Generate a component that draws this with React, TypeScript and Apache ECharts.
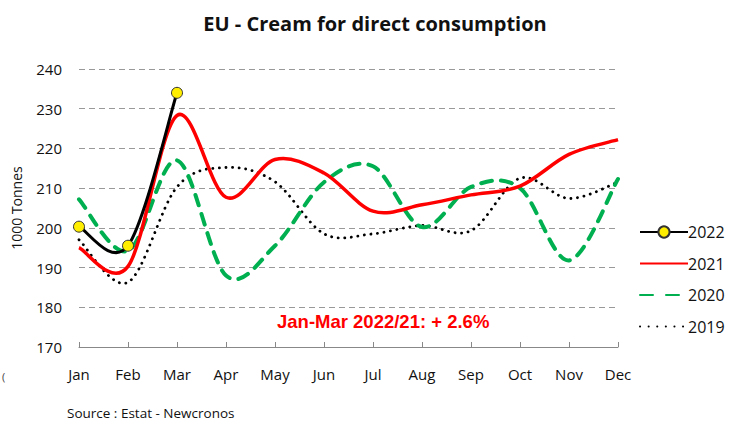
import React, { useEffect, useRef } from "react";
import * as echarts from "echarts";

const months = ["Jan", "Feb", "Mar", "Apr", "May", "Jun", "Jul", "Aug", "Sep", "Oct", "Nov", "Dec"];
const yTicks = [170, 180, 190, 200, 210, 220, 230, 240];
const s2022 = [200.3, 195.5, 234];
const s2021 = [195, 190.3, 228.3, 207.7, 217.2, 213.8, 204.2, 205.8, 208.3, 210.5, 218.5, 222.2];
const s2020 = [207.2, 194.2, 217, 188, 195.5, 211.5, 215.5, 200.2, 210.3, 210, 191.8, 212.3];
const s2019 = [197, 186.3, 210.3, 215.2, 211.6, 198.5, 198.5, 200.6, 199.3, 212.5, 207.4, 211.5];

type Style = { stroke: string; lineWidth: number; lineDash?: number[]; lineCap?: string };

function makeRenderer(vals: number[], style: Style, markers: boolean) {
  return (params: any, api: any) => {
    if (params.dataIndex !== 0) return null;
    const pts = vals.map((v, i) => api.coord([i, v]) as number[]);
    const n = pts.length;
    let d = `M${pts[0][0]},${pts[0][1]}`;
    for (let i = 0; i < n - 1; i++) {
      const p0 = pts[Math.max(i - 1, 0)];
      const p1 = pts[i];
      const p2 = pts[i + 1];
      const p3 = pts[Math.min(i + 2, n - 1)];
      const c1x = p1[0] + (p2[0] - p0[0]) / 6;
      const c1y = p1[1] + (p2[1] - p0[1]) / 6;
      const c2x = p2[0] - (p3[0] - p1[0]) / 6;
      const c2y = p2[1] - (p3[1] - p1[1]) / 6;
      d += ` C${c1x},${c1y} ${c2x},${c2y} ${p2[0]},${p2[1]}`;
    }
    const children: any[] = [
      {
        type: "path",
        shape: { pathData: d },
        style: { fill: "none", ...style },
      },
    ];
    if (markers) {
      pts.forEach((p) =>
        children.push({
          type: "circle",
          shape: { cx: p[0], cy: p[1], r: 5.5 },
          style: { fill: "#ffee00", stroke: "#333", lineWidth: 1 },
        })
      );
    }
    return { type: "group", children };
  };
}

export default function App() {
  const ref = useRef<HTMLDivElement>(null);
  useEffect(() => {
    const chart = echarts.init(ref.current!, undefined, { renderer: "svg" });
    const font = "'Open Sans', 'Liberation Sans', sans-serif";
    const curve = (name: string, vals: number[], style: Style, markers: boolean, z: number) => ({
      name,
      type: "custom",
      z,
      data: vals.map((v, i) => [i, v]),
      encode: { x: 0, y: 1 },
      renderItem: makeRenderer(vals, style, markers),
    });
    chart.setOption({
      animation: false,
      backgroundColor: "#fff",
      title: {
        text: "EU - Cream for direct consumption",
        left: 370,
        textAlign: "center",
        top: 8,
        textStyle: { fontFamily: font, fontWeight: "bold", fontSize: 20, color: "#111" },
      },
      grid: { left: 79, right: 125, top: 69, bottom: 79 },
      legend: {
        orient: "vertical",
        left: 634,
        top: 219,
        itemWidth: 48,
        itemHeight: 14,
        itemGap: 15.5,
        textStyle: { fontFamily: font, fontSize: 16, lineHeight: 14, color: "#111", padding: [0, 0, 0, -5] },
        data: [
          { name: "2022" },
          { name: "2021", itemStyle: { opacity: 0 } },
          { name: "2020", itemStyle: { opacity: 0 } },
          { name: "2019", itemStyle: { opacity: 0 } },
        ],
      },
      xAxis: {
        type: "category",
        data: months,
        boundaryGap: false,
        axisLine: { lineStyle: { color: "#888", width: 1 } },
        axisTick: { inside: true, length: 5, lineStyle: { color: "#888" } },
        axisLabel: { fontFamily: font, fontSize: 15, color: "#111", margin: 19 },
        splitLine: { show: false },
      },
      yAxis: {
        type: "value",
        min: yTicks[0],
        max: yTicks[yTicks.length - 1],
        interval: 10,
        name: "1000 Tonnes",
        nameLocation: "middle",
        nameGap: 56,
        nameRotate: 90,
        nameTextStyle: { fontFamily: font, fontSize: 14, color: "#111" },
        axisLine: { show: false },
        axisTick: { show: false },
        axisLabel: { fontFamily: font, fontSize: 15, color: "#111", margin: 17 },
        splitLine: { lineStyle: { color: "#999", type: [6, 4], width: 1 } },
      },
      series: [
        {
          name: "2022",
          type: "line",
          data: [],
          symbol: "circle",
          symbolSize: 11,
          itemStyle: { color: "#ffee00", borderColor: "#333", borderWidth: 1 },
          lineStyle: { color: "#000", width: 4 },
        },
        {
          name: "2021",
          type: "line",
          data: [],
          symbol: "none",
          itemStyle: { color: "#ff0000", opacity: 0 },
          lineStyle: { color: "#ff0000", width: 4 },
        },
        {
          name: "2020",
          type: "line",
          data: [],
          symbol: "none",
          itemStyle: { color: "#00b050", opacity: 0 },
          lineStyle: { color: "#00b050", width: 5, type: [13, 13], cap: "round" },
        },
        {
          name: "2019",
          type: "line",
          data: [],
          symbol: "none",
          itemStyle: { color: "#000", opacity: 0 },
          lineStyle: { color: "#000", width: 3, type: [0.1, 8.5], cap: "round" },
        },
        curve("2019", s2019, { stroke: "#000", lineWidth: 2.8, lineDash: [0.1, 6.5], lineCap: "round" }, false, 2),
        curve("2020", s2020, { stroke: "#00b050", lineWidth: 4, lineDash: [11, 9], lineCap: "round" }, false, 3),
        curve("2021", s2021, { stroke: "#ff0000", lineWidth: 3.5 }, false, 4),
        curve("2022", s2022, { stroke: "#000", lineWidth: 3 }, true, 5),
      ],
      graphic: [
        {
          type: "text",
          left: 277,
          top: 312,
          style: {
            text: "Jan-Mar 2022/21: + 2.6%",
            fill: "#ff0000",
            font: "bold 18.5px 'Liberation Sans', Arial, sans-serif",
          },
        },
        {
          type: "text",
          left: 67,
          top: 406,
          style: {
            text: "Source : Estat - Newcronos",
            fill: "#111",
            font: "13.5px 'Open Sans', 'Liberation Sans', sans-serif",
          },
        },
        {
          type: "text",
          left: 2,
          top: 371,
          style: { text: "(", fill: "#444", font: "11px 'Open Sans', sans-serif" },
        },
      ],
    });
    return () => chart.dispose();
  }, []);
  return <div ref={ref} style={{ width: 743, height: 426, position: "absolute", left: 0, top: 0 }} />;
}
